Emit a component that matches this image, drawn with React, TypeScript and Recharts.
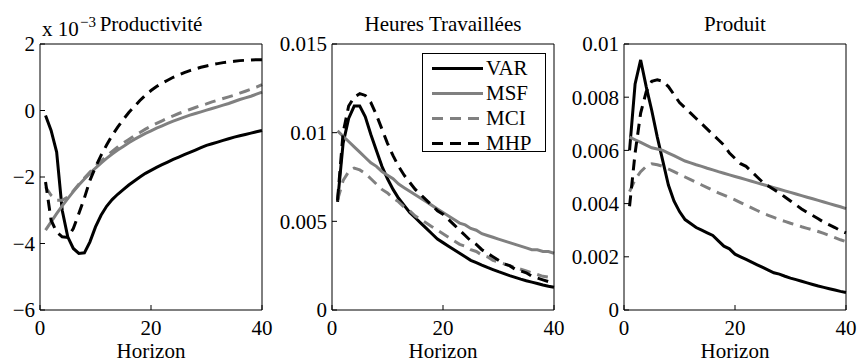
import React from "react";
import { LineChart, Line, XAxis, YAxis } from "recharts";

const horizon = [
  1, 2, 3, 4, 5, 6, 7, 8, 9, 10, 11, 12, 13, 14, 15, 16, 17, 18, 19, 20,
  21, 22, 23, 24, 25, 26, 27, 28, 29, 30, 31, 32, 33, 34, 35, 36, 37, 38, 39, 40,
];

// Productivité, in units of 10^-3
const prodVAR = [
  -0.15, -0.6, -1.25, -3.0, -3.8, -4.15, -4.3, -4.28, -3.95, -3.5,
  -3.15, -2.88, -2.68, -2.52, -2.38, -2.24, -2.12, -2.0, -1.89, -1.8,
  -1.71, -1.63, -1.55, -1.47, -1.4, -1.33, -1.26, -1.19, -1.12, -1.05,
  -1.0, -0.95, -0.9, -0.85, -0.8, -0.76, -0.72, -0.68, -0.64, -0.6,
];
const prodMSF = [
  -3.6, -3.35, -3.1, -2.87, -2.65, -2.44, -2.24, -2.06, -1.89, -1.73,
  -1.58, -1.44, -1.31, -1.19, -1.08, -0.97, -0.87, -0.78, -0.69, -0.61,
  -0.53, -0.46, -0.39, -0.32, -0.26, -0.2, -0.14, -0.09, -0.04, 0.01,
  0.06, 0.11, 0.16, 0.21, 0.27, 0.33, 0.38, 0.43, 0.49, 0.55,
];
const prodMCI = [
  -2.3, -2.55, -2.7, -2.7, -2.6, -2.42, -2.22, -2.03, -1.85, -1.68,
  -1.52, -1.37, -1.23, -1.1, -0.98, -0.87, -0.76, -0.66, -0.56, -0.47,
  -0.39, -0.31, -0.23, -0.16, -0.09, -0.03, 0.03, 0.09, 0.15, 0.2,
  0.26, 0.31, 0.36, 0.41, 0.46, 0.52, 0.58, 0.64, 0.7, 0.78,
];
const prodMHP = [
  -2.15, -3.3, -3.65, -3.8, -3.82, -3.55, -3.1, -2.63, -2.1, -1.7,
  -1.35, -1.04, -0.75, -0.5, -0.27, -0.06, 0.12, 0.3, 0.46, 0.6,
  0.72, 0.82, 0.91, 1.0, 1.07, 1.14, 1.2, 1.25, 1.3, 1.34,
  1.38, 1.41, 1.44, 1.46, 1.48, 1.5, 1.51, 1.52, 1.53, 1.53,
];

// Heures Travaillées
const hoursVAR = [
  0.0061, 0.0094, 0.0108, 0.0115, 0.0115, 0.0109, 0.0099, 0.009, 0.0081, 0.0074,
  0.0068, 0.0063, 0.0059, 0.0055, 0.0052, 0.0049, 0.0046, 0.0043, 0.004, 0.0038,
  0.0036, 0.0034, 0.0032, 0.003, 0.0028, 0.00267, 0.00253, 0.0024, 0.00228, 0.00216,
  0.00205, 0.00194, 0.00184, 0.00174, 0.00165, 0.00157, 0.00149, 0.00141, 0.00134, 0.00128,
];
const hoursMSF = [
  0.0101, 0.0098, 0.0095, 0.0092, 0.0089, 0.0086, 0.0083, 0.0081, 0.0078, 0.0076,
  0.0074, 0.0071, 0.0069, 0.0067, 0.0065, 0.0063, 0.0061, 0.0059, 0.0057, 0.0055,
  0.0053, 0.0051, 0.0049, 0.0048, 0.0046, 0.0045, 0.0043, 0.0042, 0.0041, 0.004,
  0.0039, 0.0038, 0.0037, 0.0036, 0.0035, 0.0034, 0.0034, 0.0033, 0.0033, 0.0032,
];
const hoursMCI = [
  0.0062, 0.0073, 0.0078, 0.008, 0.0079, 0.0077, 0.0074, 0.0071, 0.0068, 0.0066,
  0.0063, 0.0061, 0.0058, 0.0056, 0.0053, 0.0051, 0.0049, 0.0047, 0.0045, 0.0043,
  0.0041, 0.0039, 0.0037, 0.0036, 0.0034, 0.0033, 0.0031, 0.003, 0.0028, 0.0027,
  0.0026, 0.0025, 0.0024, 0.0023, 0.0022, 0.0021, 0.002, 0.0019, 0.00185, 0.0018,
];
const hoursMHP = [
  0.0062, 0.01, 0.0115, 0.012, 0.0122, 0.0121, 0.0117, 0.011, 0.0102, 0.0094,
  0.0087, 0.0081, 0.0076, 0.0072, 0.0068, 0.0065, 0.0062, 0.0059, 0.0056, 0.0054,
  0.0051, 0.0048, 0.0045, 0.0042, 0.0039, 0.0037, 0.0034, 0.0032, 0.003, 0.0028,
  0.0026, 0.0025, 0.0023, 0.0022, 0.0021, 0.0019, 0.0018, 0.0017, 0.0016, 0.0015,
];

// Produit
const outVAR = [
  0.006, 0.0085, 0.0094, 0.0084, 0.0075, 0.0065, 0.0056, 0.0047, 0.0041, 0.0037,
  0.0034, 0.00325, 0.0031, 0.003, 0.0029, 0.0028, 0.0026, 0.0024, 0.0023, 0.0021,
  0.002, 0.0019, 0.0018, 0.0017, 0.0016, 0.0015, 0.0014, 0.00135, 0.00127, 0.0012,
  0.00114, 0.00108, 0.00102, 0.00096, 0.0009, 0.00085, 0.0008, 0.00075, 0.0007, 0.00066,
];
const outMSF = [
  0.0065, 0.0064, 0.0063, 0.0062, 0.0061, 0.00605, 0.006, 0.0059, 0.0058, 0.0057,
  0.0056, 0.00553, 0.00546, 0.0054, 0.00533, 0.00527, 0.0052, 0.00514, 0.00508, 0.00502,
  0.00496, 0.0049, 0.00484, 0.00478, 0.00472, 0.00466, 0.0046, 0.00454, 0.00448, 0.00442,
  0.00436, 0.0043, 0.00424, 0.00418, 0.00412, 0.00406, 0.004, 0.00394, 0.00388, 0.00381,
];
const outMCI = [
  0.00445, 0.0049, 0.0052, 0.0054, 0.0055, 0.00546, 0.0054, 0.0053, 0.0052, 0.0051,
  0.005, 0.0049, 0.0048, 0.0047, 0.0046, 0.0045, 0.0044, 0.00432, 0.00423, 0.00414,
  0.00404, 0.00394, 0.00384, 0.00374, 0.00364, 0.00356, 0.00348, 0.0034, 0.00333, 0.00326,
  0.0032, 0.00313, 0.00307, 0.00301, 0.00295, 0.00288, 0.0028, 0.00272, 0.00264, 0.00257,
];
const outMHP = [
  0.0039, 0.0059, 0.0074, 0.0082, 0.0086, 0.00865, 0.0086, 0.0084, 0.0081, 0.0078,
  0.0076, 0.0074, 0.0072, 0.007, 0.0068, 0.0066, 0.0064, 0.0062, 0.0059, 0.0057,
  0.0055, 0.0054, 0.0052, 0.005, 0.0048, 0.00466, 0.00453, 0.0044, 0.00425, 0.0041,
  0.00395, 0.0038, 0.00367, 0.00355, 0.00343, 0.0033, 0.0032, 0.0031, 0.00298, 0.0029,
];

const xTicks = [0, 20, 40];
const prodTicks = [-6, -4, -2, 0, 2];
const hoursTicks = [0, 0.005, 0.01, 0.015];
const outTicks = [0, 0.002, 0.004, 0.006, 0.008, 0.01];

const FONT = "'Liberation Serif', 'Times New Roman', Times, 'DejaVu Serif', serif";
const GRAY = "#808080";

const SERIES = [
  { key: "VAR", color: "#000", dash: undefined },
  { key: "MSF", color: GRAY, dash: undefined },
  { key: "MCI", color: GRAY, dash: "11 7" },
  { key: "MHP", color: "#000", dash: "11 7" },
];

const rows = (a: number[], b: number[], c: number[], d: number[]) =>
  horizon.map((h, i) => ({ h, VAR: a[i], MSF: b[i], MCI: c[i], MHP: d[i] }));

const fmtMinus = (v: number) => (v < 0 ? "\u2212" + String(-v) : String(v));

const tickStyle = { fill: "#000", fontSize: 21, style: { fontFamily: FONT } };

function ProdTitle(props: any) {
  const vb = props.viewBox || { x: 40, y: 43, width: 222 };
  return (
    <g style={{ fontFamily: FONT }} fill="#000">
      <text x={vb.x + 2} y={36} fontSize={21}>
        x 10
      </text>
      <text x={vb.x + 40} y={27} fontSize={15}>
        {"\u22123"}
      </text>
      <text x={vb.x + vb.width / 2} y={31} fontSize={21} textAnchor="middle">
        Productivité
      </text>
    </g>
  );
}

type PanelProps = {
  left: number;
  width: number;
  yAxisWidth: number;
  data: any[];
  domain: [number, number];
  ticks: number[];
  title: any;
  fmt?: (v: number) => string;
};

function Panel({ left, width, yAxisWidth, data, domain, ticks, title, fmt }: PanelProps) {
  // plot area is 222 px wide; the right axis takes 1 px
  const rightMargin = width - yAxisWidth - 222 - 1;
  return (
    <div style={{ position: "absolute", left, top: 0 }}>
      <LineChart
        width={width}
        height={362}
        data={data}
        margin={{ top: 43, right: rightMargin, bottom: 0, left: 0 }}
      >
        <XAxis
          xAxisId="b"
          dataKey="h"
          type="number"
          domain={[0, 40]}
          ticks={xTicks}
          interval={0}
          height={52}
          tickSize={-5}
          tickMargin={15}
          stroke="#000"
          tick={tickStyle}
          label={{
            value: "Horizon",
            position: "insideBottom",
            offset: 4,
            fill: "#000",
            fontSize: 21,
            style: { fontFamily: FONT },
          }}
        />
        <XAxis
          xAxisId="t"
          orientation="top"
          dataKey="h"
          type="number"
          domain={[0, 40]}
          ticks={xTicks}
          interval={0}
          height={1}
          tickSize={-5}
          stroke="#000"
          tick={false}
          label={title}
        />
        <YAxis
          yAxisId="l"
          type="number"
          domain={domain}
          ticks={ticks}
          interval={0}
          width={yAxisWidth}
          tickSize={-5}
          tickMargin={10}
          stroke="#000"
          tick={tickStyle}
          tickFormatter={fmt || ((v: number) => String(v))}
        />
        <YAxis
          yAxisId="r"
          orientation="right"
          type="number"
          domain={domain}
          ticks={ticks}
          interval={0}
          width={1}
          tickSize={-5}
          stroke="#000"
          tick={false}
        />
        {SERIES.map((s) => (
          <Line
            key={s.key}
            xAxisId="b"
            yAxisId="l"
            type="linear"
            dataKey={s.key}
            stroke={s.color}
            strokeWidth={3}
            strokeDasharray={s.dash}
            dot={false}
            isAnimationActive={false}
          />
        ))}
      </LineChart>
    </div>
  );
}

function LegendBox() {
  return (
    <div
      style={{
        position: "absolute",
        left: 422,
        top: 53,
        width: 124,
        height: 99,
        boxSizing: "border-box",
        border: "1.5px solid #000",
        background: "#fff",
        paddingTop: 2,
        fontFamily: FONT,
        fontSize: 21,
      }}
    >
      {SERIES.map((s) => (
        <div key={s.key} style={{ display: "flex", alignItems: "center", height: 25 }}>
          <svg width={61} height={25} style={{ flex: "none" }}>
            <line
              x1={9}
              x2={60}
              y1={12.5}
              y2={12.5}
              stroke={s.color}
              strokeWidth={3}
              strokeDasharray={s.dash}
            />
          </svg>
          <span style={{ marginLeft: 2, lineHeight: "25px" }}>{s.key}</span>
        </div>
      ))}
    </div>
  );
}

const titleStyle = {
  position: "top",
  offset: 12,
  fill: "#000",
  fontSize: 21,
  style: { fontFamily: FONT },
};

export default function App() {
  return (
    <div
      style={{
        position: "absolute",
        left: 0,
        top: 0,
        width: 858,
        height: 362,
        background: "#fff",
        overflow: "hidden",
      }}
    >
      <Panel
        left={0}
        width={280}
        yAxisWidth={40}
        data={rows(prodVAR, prodMSF, prodMCI, prodMHP)}
        domain={[-6, 2]}
        ticks={prodTicks}
        fmt={fmtMinus}
        title={(p: any) => <ProdTitle {...p} />}
      />
      <Panel
        left={276}
        width={296}
        yAxisWidth={56}
        data={rows(hoursVAR, hoursMSF, hoursMCI, hoursMHP)}
        domain={[0, 0.015]}
        ticks={hoursTicks}
        title={{ value: "Heures Travaillées", ...titleStyle }}
      />
      <Panel
        left={566}
        width={292}
        yAxisWidth={58}
        data={rows(outVAR, outMSF, outMCI, outMHP)}
        domain={[0, 0.01]}
        ticks={outTicks}
        title={{ value: "Produit", ...titleStyle }}
      />
      <LegendBox />
    </div>
  );
}
